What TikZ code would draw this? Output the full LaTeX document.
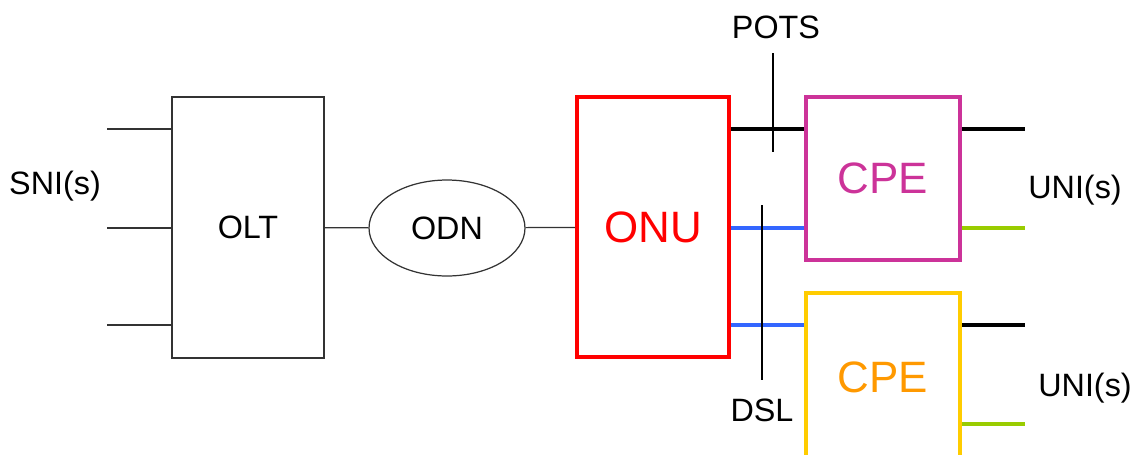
\documentclass[tikz,border=0pt]{standalone}
\usepackage{fontspec}
\setmainfont{Liberation Sans}
\usetikzlibrary{positioning,shapes.geometric}
\definecolor{onured}{HTML}{FF0000}
\definecolor{cpemagenta}{HTML}{CC3399}
\definecolor{cpeyellow}{HTML}{FFCC00}
\definecolor{cpeorange}{HTML}{FF9900}
\definecolor{dslblue}{HTML}{3366FF}
\definecolor{unigreen}{HTML}{99CC00}
\definecolor{linedark}{HTML}{333333}

\begin{document}
\begin{tikzpicture}[
  x=0.02cm, y=-0.02cm,
  font=\fontsize{18.4}{22}\selectfont,
  box/.style={
    draw=linedark,
    line width=0.7pt,
    inner sep=0pt
  },
  bigbox/.style={
    line width=2.5pt,
    inner sep=0pt,
    font=\fontsize{25}{29}\selectfont
  },
  thin/.style={linedark, line width=0.7pt},
  thick/.style={line width=2.5pt}
]
\clip (0,0) rectangle (1133,454);

\node[box, minimum width=3.04cm, minimum height=5.22cm] (olt) at (248,227.5) {OLT};
\node[box, ellipse, minimum width=3.12cm, minimum height=1.92cm] (odn) at (447,228) {ODN};
\node[bigbox, draw=onured, text=onured, minimum width=3.04cm, minimum height=5.2cm] (onu) at (653,227) {ONU};
\node[bigbox, draw=cpemagenta, text=cpemagenta, minimum width=3.08cm, minimum height=3.26cm] (cpea) at (883,178.5) {CPE};
\node[bigbox, draw=cpeyellow, minimum width=3.08cm, minimum height=4.4cm] (cpeb) at (883,403) {};
\node[text=cpeorange, font=\fontsize{25}{29}\selectfont] (cpebtxt) at (883,377) {CPE};

\node (sni) at (55,186) {SNI(s)};
\node (pots) at (776,27) {POTS};
\node (dsl) at (762,410) {DSL};
\node (unia) at (1075,190) {UNI(s)};
\node (unib) at (1085,388) {UNI(s)};

% interface ends
\coordinate (sni1) at (107,129);
\coordinate (sni2) at (107,228);
\coordinate (sni3) at (107,325);
\coordinate (uni1) at (1025,129);
\coordinate (uni2) at (1025,228);
\coordinate (uni3) at (1025,325);
\coordinate (uni4) at (1025,424);

\draw[thin] (sni1) -- (sni1 -| olt.west);
\draw[thin] (sni2) -- (sni2 -| olt.west);
\draw[thin] (sni3) -- (sni3 -| olt.west);
\draw[thin] (olt) -- (odn);
\draw[thin] (odn) -- (onu);

\draw[thick, black] (onu.east |- sni1) -- (cpea.west |- sni1);
\draw[thick, dslblue] (onu.east |- sni2) -- (cpea.west |- sni2);
\draw[thick, dslblue] (onu.east |- sni3) -- (cpeb.west |- sni3);

\draw[thick, black] (cpea.east |- uni1) -- (uni1);
\draw[thick, unigreen] (cpea.east |- uni2) -- (uni2);
\draw[thick, black] (cpeb.east |- uni3) -- (uni3);
\draw[thick, unigreen] (cpeb.east |- uni4) -- (uni4);

% reference point marks
\coordinate (potstop) at (773,53);
\coordinate (potsbot) at (773,152);
\coordinate (dsltop) at (762,205);
\coordinate (dslbot) at (762,380);
\draw[black, line width=0.7pt] (potstop) -- (potsbot);
\draw[black, line width=0.7pt] (dsltop) -- (dslbot);

\end{tikzpicture}
\end{document}
